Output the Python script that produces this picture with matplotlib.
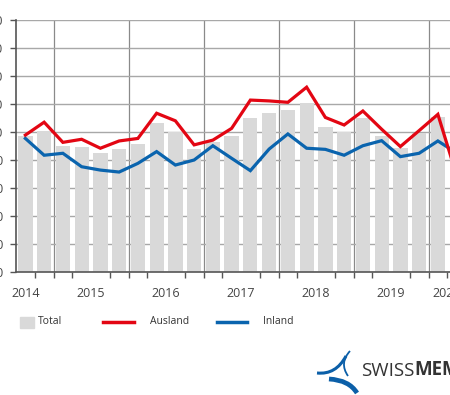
import matplotlib
matplotlib.use("Agg")
import matplotlib.pyplot as plt
from matplotlib.patches import Rectangle
from matplotlib.lines import Line2D
from matplotlib.path import Path
from matplotlib.patches import PathPatch
import numpy as np

plt.rcParams['font.family'] = ['Open Sans', 'DejaVu Sans']

# ---------------- data ----------------
quarters = ["2014Q3", "2014Q4",
            "2015Q1", "2015Q2", "2015Q3", "2015Q4",
            "2016Q1", "2016Q2", "2016Q3", "2016Q4",
            "2017Q1", "2017Q2", "2017Q3", "2017Q4",
            "2018Q1", "2018Q2", "2018Q3", "2018Q4",
            "2019Q1", "2019Q2", "2019Q3", "2019Q4",
            "2020Q1", "2020Q2"]
total = [98.7, 100.5, 95.1, 94.8, 92.4, 93.9, 95.6, 103.1,
         100.1, 93.9, 96.5, 98.7, 105.1, 106.9, 107.9, 110.5,
         101.9, 100.1, 104.9, 98.7, 94.2, 99.5, 105.4, 90.0]
ausland = [98.9, 103.5, 96.3, 97.4, 94.2, 96.8, 97.7, 106.7,
           104.0, 95.4, 97.1, 101.3, 111.4, 111.1, 110.6, 116.0,
           105.2, 102.5, 107.5, 101.0, 94.8, 100.5, 106.3, 84.5]
inland = [97.7, 91.7, 92.4, 87.6, 86.4, 85.7, 88.8, 93.0,
          88.2, 90.0, 95.1, 90.6, 86.2, 93.9, 99.3, 94.2,
          93.8, 91.7, 95.1, 96.9, 91.2, 92.4, 96.8, 92.5]
series_names = ["Total", "Ausland", "Inland"]
year_labels = ["2014", "2015", "2016", "2017", "2018", "2019", "2020"]
yticks = [50, 60, 70, 80, 90, 100, 110, 120, 130, 140]

# ---------------- style ----------------
W, H = 450, 395
BAR_C = "#d9d9d9"
RED = "#e30613"
BLUE = "#0a64ae"
TXT = "#444444"

fig = plt.figure(figsize=(W / 100, H / 100), dpi=100)


def fx(x):
    return x / W


def fy(y):
    return 1 - y / H


ax_left, ax_top, ax_bottom = 16, 20, 272
ax = fig.add_axes([fx(ax_left), fy(ax_bottom), 1 - fx(ax_left),
                   (ax_bottom - ax_top) / H])

x = np.arange(len(quarters))
year_of = [int(q[:4]) for q in quarters]

ax.bar(x, total, width=0.76, color=BAR_C, zorder=2)
ax.plot(x, inland, color=BLUE, lw=2.3, zorder=4, solid_joinstyle='miter')
ax.plot(x, ausland, color=RED, lw=2.3, zorder=5, solid_joinstyle='miter')

ax.set_ylim(yticks[0], yticks[-1])
ax.set_xlim(-0.5, -0.5 + (W - ax_left) / 18.75)

# horizontal grid
ax.set_yticks(yticks)
ax.set_yticklabels([str(v) for v in yticks], fontsize=9, color=TXT)
ax.yaxis.grid(True, color="#a8a8a8", lw=1.0, zorder=1)
ax.tick_params(axis='y', length=4.3, width=1.0, color="#555555", pad=4.8)

# vertical year boundaries
boundaries = [i - 0.5 for i in range(1, len(quarters)) if year_of[i] != year_of[i - 1]]
for b in boundaries:
    ax.axvline(b, color="#8a8a8a", lw=0.9, zorder=1)

# quarter tick marks
ax.set_xticks([i + 0.5 for i in range(len(quarters) - 1)], minor=True)
ax.tick_params(axis='x', which='minor', length=4, width=1.0, color="#555555")

# year labels
years = sorted(set(year_of))
pos = []
for yv in years:
    idx = [i for i, v in enumerate(year_of) if v == yv]
    pos.append(idx[0] - (int(quarters[idx[0]][-1]) - 1) + 1.5)
pos[0] = 0.0
pos[-1] = 22.45
ax.set_xticks(pos)
ax.set_xticklabels(year_labels, fontsize=9, color=TXT)
ax.tick_params(axis='x', which='major', length=0, pad=11)

for s in ["top", "right"]:
    ax.spines[s].set_visible(False)
ax.spines["left"].set_color("#555555")
ax.spines["left"].set_linewidth(1.2)
ax.spines["bottom"].set_color("#555555")
ax.spines["bottom"].set_linewidth(1.2)
ax.set_facecolor("white")

# ---------------- legend ----------------
ly = 322
fig.add_artist(Rectangle((fx(20), fy(328)), fx(14), (328 - 317) / H,
                         transform=fig.transFigure, color=BAR_C))
fig.text(fx(38), fy(ly), series_names[0], fontsize=7.5, color="#333333", va='center')
fig.add_artist(Line2D([fx(103), fx(134)], [fy(ly), fy(ly)], color=RED, lw=2.5,
                      transform=fig.transFigure))
fig.text(fx(150), fy(ly), series_names[1], fontsize=7.5, color="#333333", va='center')
fig.add_artist(Line2D([fx(217), fx(247)], [fy(ly), fy(ly)], color=BLUE, lw=2.5,
                      transform=fig.transFigure))
fig.text(fx(263), fy(ly), series_names[2], fontsize=7.5, color="#333333", va='center')

# ---------------- logo ----------------
LOGO = "#0b5fa8"


def curve(pts, lw):
    verts = [(fx(px), fy(py)) for px, py in pts]
    codes = [Path.MOVETO] + [Path.CURVE3] * (len(verts) - 1)
    p = PathPatch(Path(verts, codes), transform=fig.transFigure, fill=False,
                  edgecolor=LOGO, lw=lw, capstyle='butt')
    fig.add_artist(p)


curve([(350, 351), (339, 363), (348, 376)], 1.3)
curve([(317, 373), (336, 375), (346, 356)], 2.2)
curve([(329, 379), (349, 380), (357, 393)], 3.4)

t1 = fig.text(fx(361), fy(371), "SWISS", fontsize=13.5, color="#333333",
              va='center', ha='left')
ax.annotate("MEM", xy=(1, 0), xycoords=t1, va='bottom', ha='left',
            fontsize=13.5, color="#333333", fontweight='bold',
            annotation_clip=False)

fig.savefig("out.png", dpi=100, facecolor="white")
